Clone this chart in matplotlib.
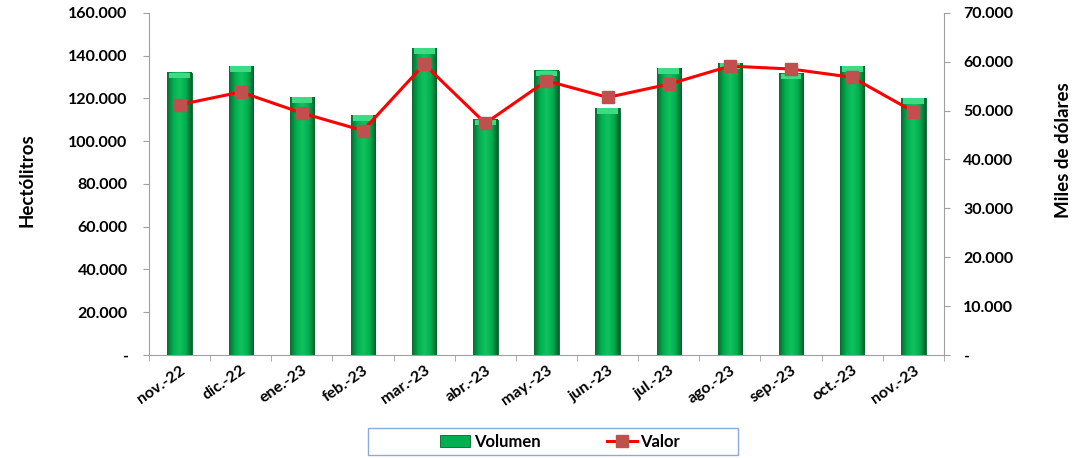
import numpy as np
import matplotlib
matplotlib.use("Agg")
import matplotlib.pyplot as plt
from matplotlib.ticker import FuncFormatter, MultipleLocator
from matplotlib.colors import LinearSegmentedColormap
from matplotlib.patches import Rectangle

meses = ["nov.-22", "dic.-22", "ene.-23", "feb.-23", "mar.-23", "abr.-23", "may.-23",
         "jun.-23", "jul.-23", "ago.-23", "sep.-23", "oct.-23", "nov.-23"]
volumen = [132000, 135000, 120500, 112000, 143500, 110000, 133000,
           115500, 134000, 136500, 131500, 135000, 120000]
valor = [51200, 53800, 49500, 45900, 59500, 47400, 56100,
         52700, 55400, 59100, 58500, 56800, 49800]

plt.rcParams['font.family'] = ['Lato', 'DejaVu Sans']
plt.rcParams['font.weight'] = 'bold'

def miles(v, pos):
    if v == 0:
        return "-"
    return "{:,.0f}".format(v).replace(",", ".")

fig = plt.figure(figsize=(10.8, 4.58), dpi=100)
ax = fig.add_axes([0.138, 0.225, 0.736, 0.747])
ax2 = ax.twinx()

x = np.arange(len(meses))
barras = ax.bar(x, volumen, width=0.4, color="#00B050", edgecolor="#0A5F2A", linewidth=0.6, zorder=2)

# sombreado tipo bisel de las barras
grad = LinearSegmentedColormap.from_list("g", ["#0B6B30", "#00B050", "#12C15E", "#00B050", "#06602B"])
for b in barras:
    x0, w, h = b.get_x(), b.get_width(), b.get_height()
    ax.imshow(np.linspace(0, 1, 64).reshape(1, -1), cmap=grad, aspect="auto",
              extent=(x0, x0 + w, 0, h), zorder=2.1)
    ax.fill_between([x0 + 0.03, x0 + w - 0.03], h - 2600, h, color="#3DDC84", zorder=2.2, lw=0)
ax.set_xlim(-0.5, len(meses) - 0.5)
ax.set_ylim(0, 160000)

linea, = ax2.plot(x, valor, color="#FF0000", lw=2.2, marker="s", markersize=9,
                  markerfacecolor="#C0504D", markeredgecolor="#C0504D", zorder=3)
ax2.set_ylim(0, 70000)
ax.set_zorder(1)
ax2.set_zorder(2)
ax.patch.set_visible(False)

ax.yaxis.set_major_locator(MultipleLocator(20000))
ax2.yaxis.set_major_locator(MultipleLocator(10000))
ax.yaxis.set_major_formatter(FuncFormatter(miles))
ax2.yaxis.set_major_formatter(FuncFormatter(miles))

ax.set_xticks(x)
ax.set_xticklabels(meses, rotation=35, ha="right", rotation_mode="anchor", fontsize=11.5)
ax.set_xticks(np.arange(-0.5, len(meses)), minor=True)
ax.tick_params(axis="x", which="major", length=0, pad=6)
ax.tick_params(axis="x", which="minor", length=4, color="#A0A0A0")
ax.tick_params(axis="y", labelsize=11.5, length=4, color="#A0A0A0", pad=11.5)
ax2.tick_params(axis="y", labelsize=11.5, length=4, color="#A0A0A0", pad=10)

for a in (ax, ax2):
    for s in a.spines.values():
        s.set_color("#A0A0A0")
    a.spines["top"].set_visible(False)
ax.spines["right"].set_visible(False)
ax2.spines["left"].set_visible(False)
ax2.spines["bottom"].set_visible(False)

ax.set_ylabel("Hectólitros", fontsize=13.5, fontweight="bold")
ax2.set_ylabel("Miles de dólares", fontsize=13.5, fontweight="bold")
ax.yaxis.set_label_coords(-0.143, 0.51)
ax2.yaxis.set_label_coords(1.14, 0.6)

# leyenda con marco propio
fig.patches.append(Rectangle((368 / 1080, 3 / 458), 370 / 1080, 27 / 458, transform=fig.transFigure,
                             fill=False, edgecolor="#8EA9DB", lw=1))
leg = fig.legend([barras, linea], ["Volumen", "Valor"], loc="center left",
                 bbox_to_anchor=(432 / 1080, 16 / 458), ncol=2, frameon=False,
                 columnspacing=4.0, handlelength=1.8, handletextpad=0.2, borderpad=0,
                 prop={"weight": "bold", "size": 12})

fig.savefig("out.png", dpi=100)
